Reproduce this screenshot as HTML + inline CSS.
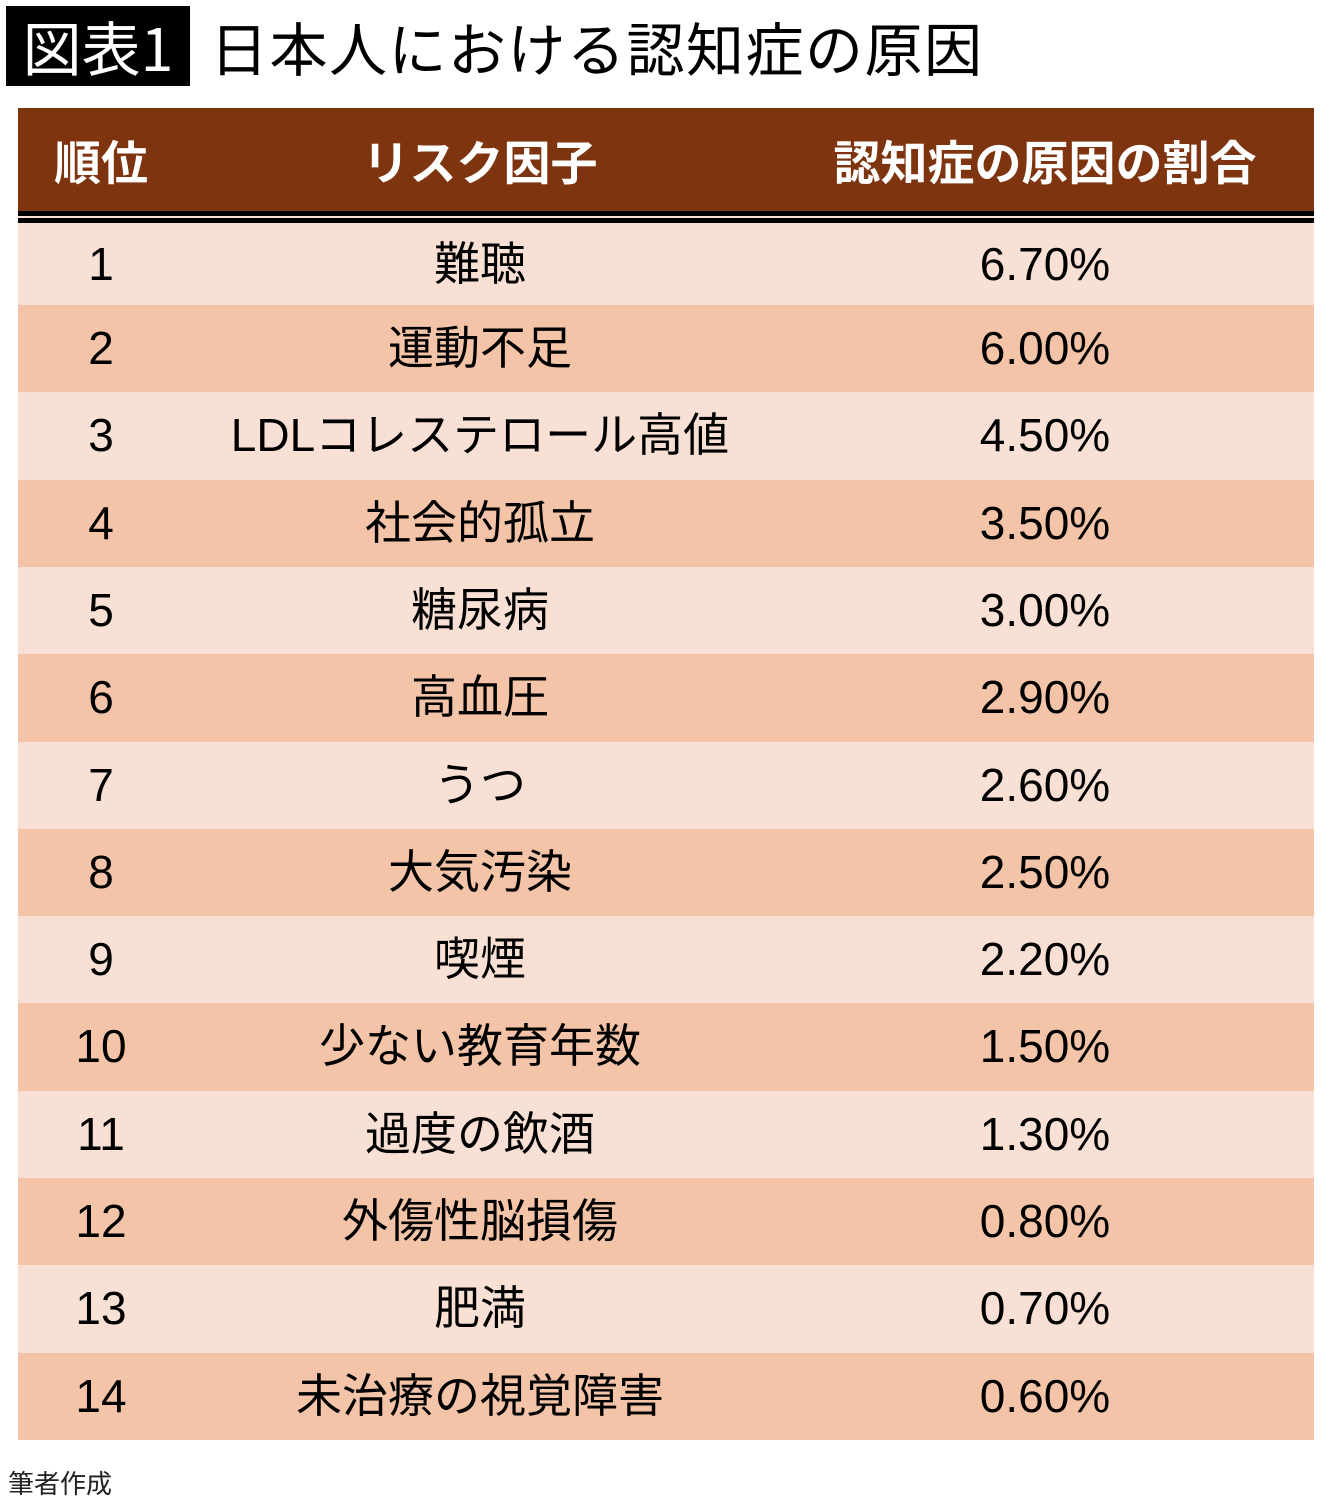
<!DOCTYPE html>
<html><head><meta charset="utf-8">
<style>
body{margin:0;width:1340px;height:1507px;background:#fff;position:relative;overflow:hidden;font-family:"Liberation Sans","Noto Sans CJK JP",sans-serif;}
.abs{position:absolute;}
#badge{left:6px;top:6px;width:184px;height:80px;background:#000;color:#fff;font-size:59px;line-height:80px;text-align:center;font-family:"Noto Sans CJK JP",sans-serif;}
#title{left:210px;top:4px;height:84px;line-height:84px;font-size:58px;letter-spacing:1.5px;color:#000;font-family:"Noto Sans CJK JP",sans-serif;white-space:nowrap;}
#header{left:18px;top:108px;width:1296px;height:103px;background:#7f3410;}
.hcell{position:absolute;top:0;height:103px;line-height:103px;color:#fff;font-weight:bold;font-size:47px;text-align:center;font-family:"Noto Sans CJK JP",sans-serif;}
.line{left:18px;width:1296px;background:#000;}
.row{position:absolute;left:18px;width:1296px;}
.cell{position:absolute;text-align:center;font-size:46px;color:#000;font-family:"Liberation Sans","Noto Sans CJK JP",sans-serif;white-space:nowrap;}
#note{left:8px;top:1464px;font-size:26px;color:#222;font-family:"Noto Sans CJK JP",sans-serif;}
</style></head><body>
<div id="badge" class="abs">図表1</div>
<div id="title" class="abs">日本人における認知症の原因</div>
<div id="header" class="abs">
<div class="hcell" style="left:0;width:166px">順位</div>
<div class="hcell" style="left:166px;width:592px">リスク因子</div>
<div class="hcell" style="left:758px;width:538px">認知症の原因の割合</div>
</div>
<div id="rows"></div>
<div class="abs line" style="top:211px;height:5px"></div>
<div class="abs line" style="top:218px;height:5px;background:#000"></div>
<div id="note" class="abs">筆者作成</div>
<script>
const ranks=["1","2","3","4","5","6","7","8","9","10","11","12","13","14"];
const factors=["難聴","運動不足","LDLコレステロール高値","社会的孤立","糖尿病","高血圧","うつ","大気汚染","喫煙","少ない教育年数","過度の飲酒","外傷性脳損傷","肥満","未治療の視覚障害"];
const shares=[6.7,6.0,4.5,3.5,3.0,2.9,2.6,2.5,2.2,1.5,1.3,0.8,0.7,0.6];
const rowH=(1440-305)/13;
const body=document.getElementById('rows');
for(let i=0;i<ranks.length;i++){
  const r=document.createElement('div');
  r.className='row';
  
  
  const t=i===0?216:305+(i-1)*rowH;
  const h=i===0?89:rowH;
  const tc=i===0?223:t;
  r.style.top=t+'px';
  r.style.height=h+'px';
  r.style.background=i%2===0?'#f9e0d4':'#f4c4a8';
  const vals=[ranks[i],factors[i],shares[i].toFixed(2)+'%'];
  const lefts=[0,166,758],widths=[166,592,538];
  const names=['rank-cell','factor-cell','share-cell'];
  for(let j=0;j<3;j++){
    const c=document.createElement('div');
    c.className='cell';
    
    
    c.style.left=lefts[j]+'px';c.style.width=widths[j]+'px';
    const ch=(t+h)-tc;
    c.style.top=(tc-t)+'px';
    c.style.height=ch+'px';c.style.lineHeight=ch+'px';
    c.textContent=vals[j];
    r.appendChild(c);
  }
  body.appendChild(r);
}
</script>
</body></html>
